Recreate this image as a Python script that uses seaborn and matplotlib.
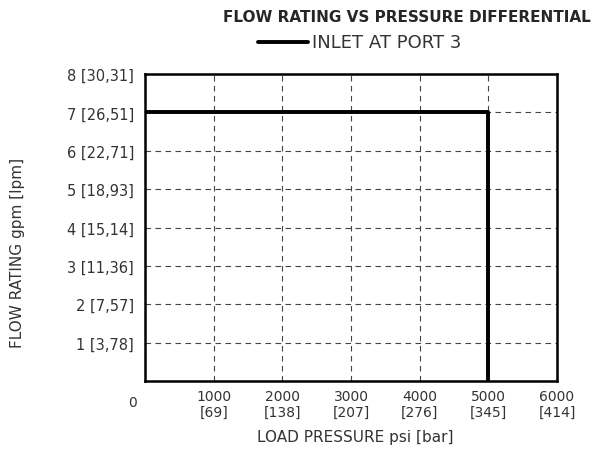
import matplotlib
matplotlib.use('Agg')
import matplotlib.pyplot as plt
import seaborn as sns
import pandas as pd

# curve data
pressure_psi = [0, 5000, 5000]
flow_gpm = [7, 7, 0]

x_ticks = [1000, 2000, 3000, 4000, 5000, 6000]
x_tick_labels = ['1000\n[69]', '2000\n[138]', '3000\n[207]', '4000\n[276]',
                 '5000\n[345]', '6000\n[414]']
y_ticks = [1, 2, 3, 4, 5, 6, 7, 8]
y_tick_labels = ['1 [3,78]', '2 [7,57]', '3 [11,36]', '4 [15,14]',
                 '5 [18,93]', '6 [22,71]', '7 [26,51]', '8 [30,31]']

sns.set_style('white')
plt.rcParams['font.family'] = ['DejaVu Sans']

df = pd.DataFrame({'pressure': pressure_psi, 'flow': flow_gpm})

fig = plt.figure(figsize=(6.15, 4.52), dpi=100)
ax = fig.add_axes([145 / 615, 1 - 382 / 452, 412 / 615, 307 / 452])

sns.lineplot(data=df, x='pressure', y='flow', sort=False, estimator=None,
             color='black', linewidth=2.8, ax=ax)

ax.set_xlim(0, 6000)
ax.set_ylim(0, 8)
ax.set_xticks(x_ticks)
ax.set_xticklabels(x_tick_labels, fontsize=10, color='#333333', linespacing=1.15)
ax.set_yticks(y_ticks)
ax.set_yticklabels(y_tick_labels, fontsize=10.5, color='#333333')
ax.tick_params(length=0, pad=8)
ax.tick_params(axis='x', pad=6)
ax.text(-0.03, -0.045, '0', transform=ax.transAxes, ha='center', va='top',
        fontsize=10, color='#333333')

ax.grid(True, linestyle=(0, (5, 4)), color='#444444', linewidth=0.8)
for spine in ax.spines.values():
    spine.set_color('black')
    spine.set_linewidth(1.8)

ax.set_xlabel('LOAD PRESSURE psi [bar]', fontsize=11, color='#333333')
ax.xaxis.set_label_coords(0.51, -0.157)
ax.set_ylabel('FLOW RATING gpm [lpm]', fontsize=11, color='#333333')
ax.yaxis.set_label_coords(-0.292, 0.42)

fig.text(407 / 615, 1 - 18 / 452, 'FLOW RATING VS PRESSURE DIFFERENTIAL',
         ha='center', va='center', fontsize=11, fontweight='bold')
fig.lines.append(plt.Line2D([258 / 615, 308 / 615], [1 - 43 / 452, 1 - 43 / 452],
                            transform=fig.transFigure, color='black', linewidth=2.8))
fig.text(312 / 615, 1 - 43 / 452, 'INLET AT PORT 3', ha='left', va='center',
         fontsize=13, color='#333333')

fig.savefig('out.png', dpi=100)
